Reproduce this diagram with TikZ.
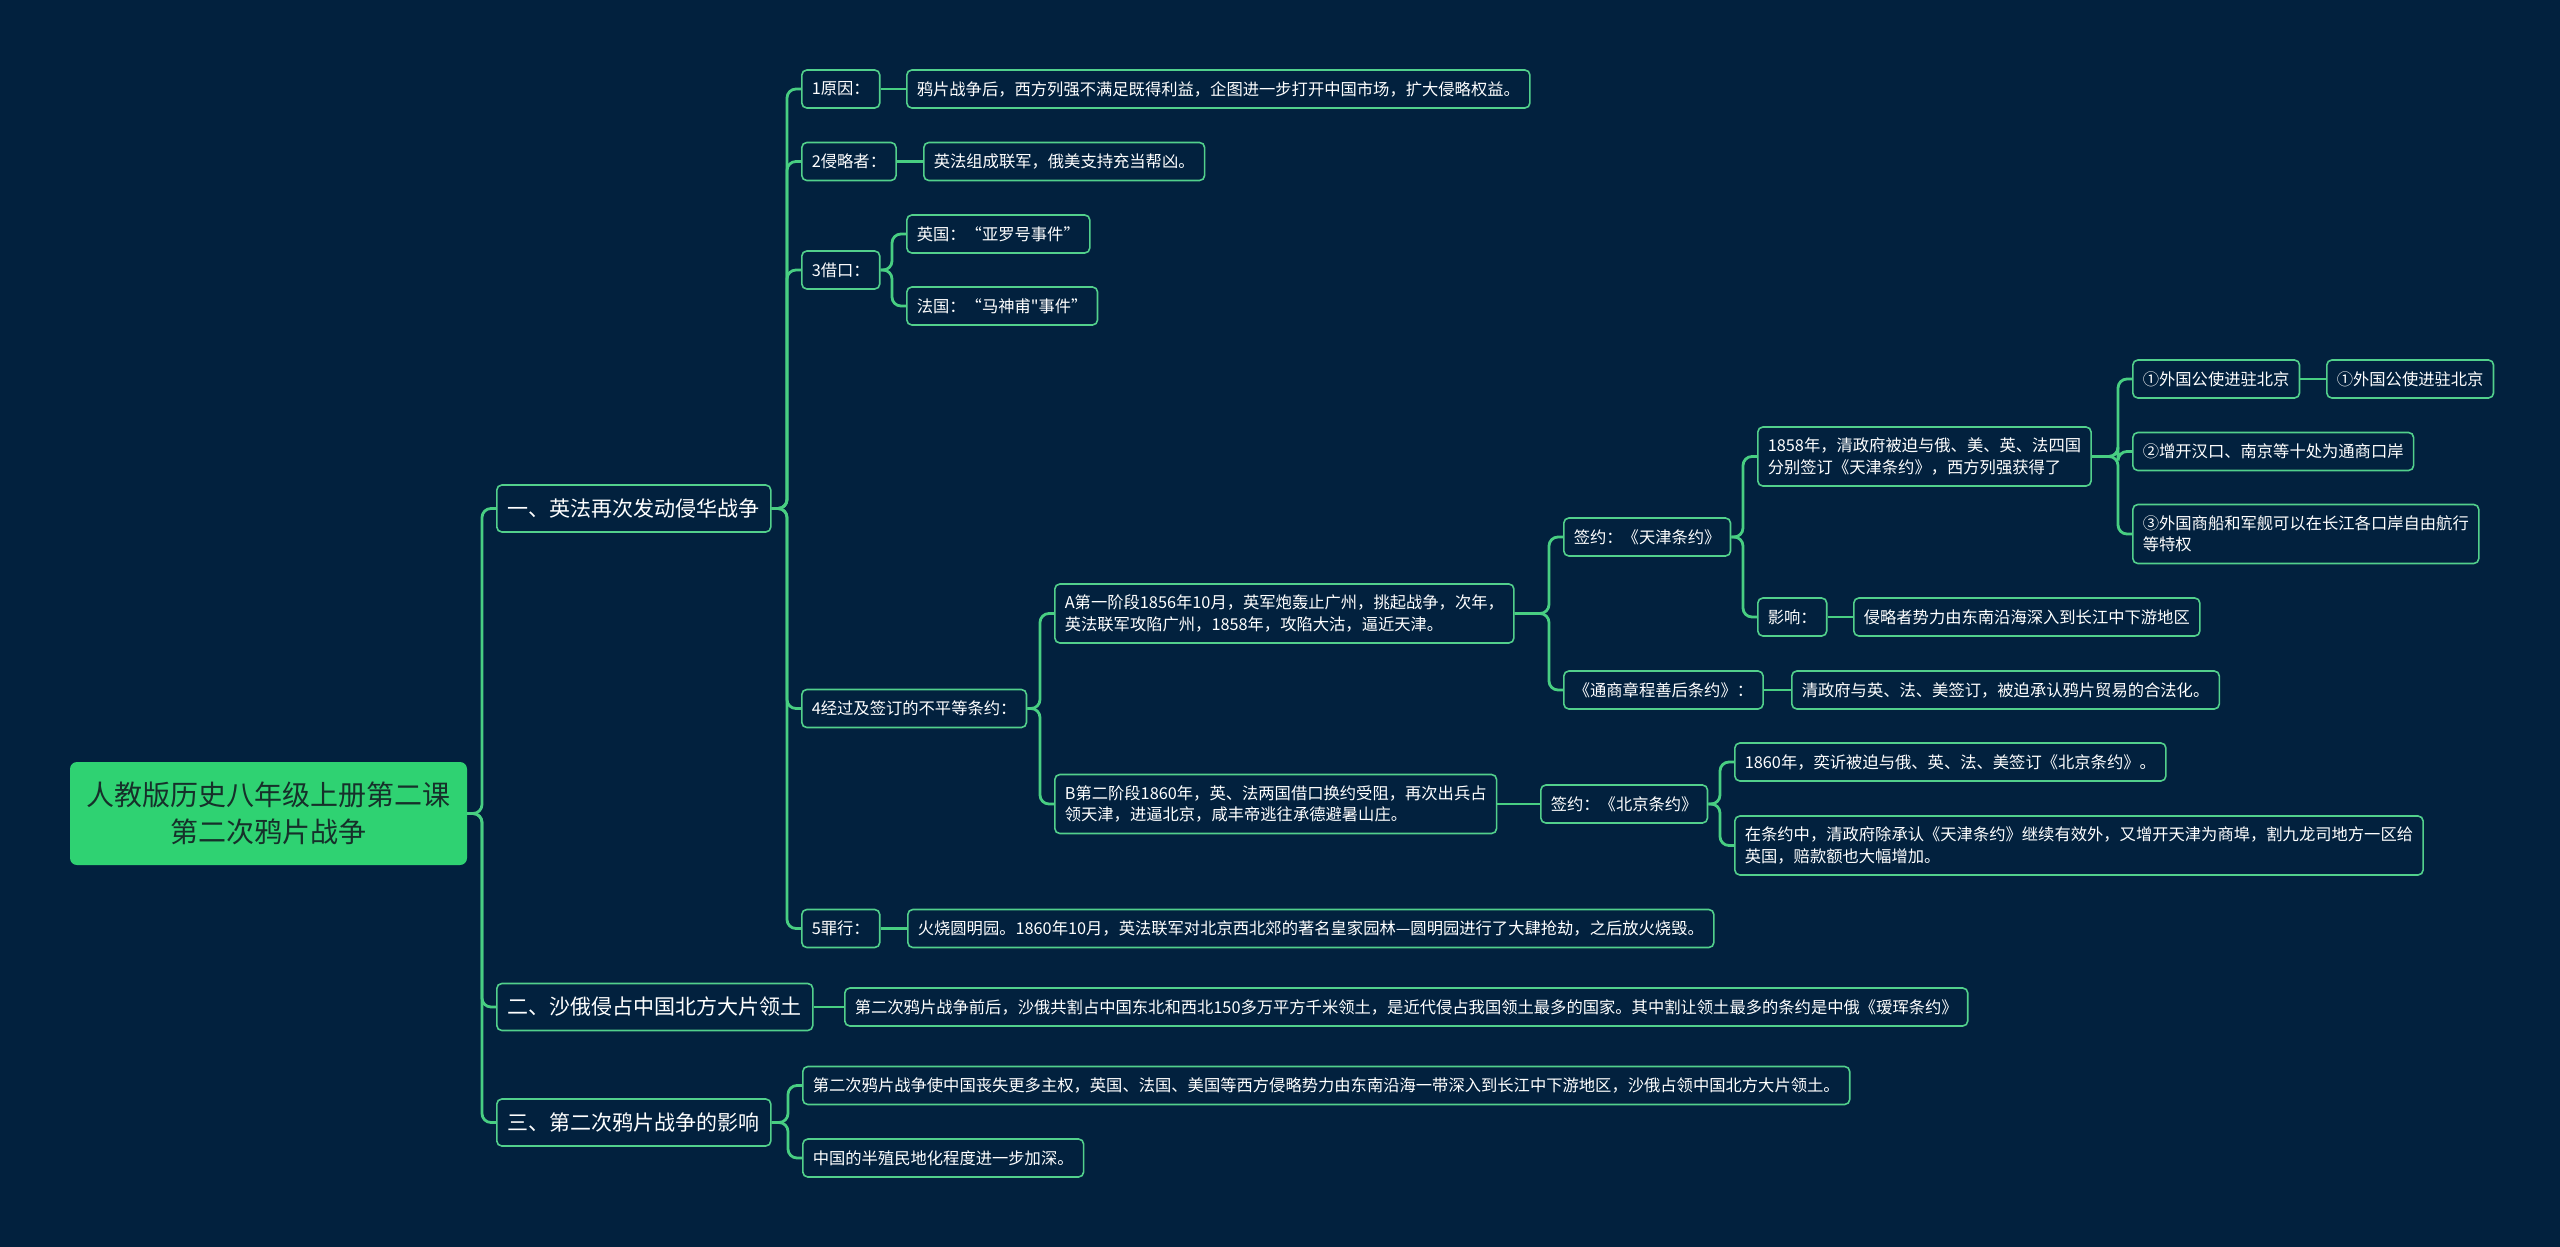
\documentclass[tikz,border=0pt]{standalone}
\usepackage{fontspec}
\setmainfont{Noto Sans CJK SC}[Ligatures=TeXOff]
\usetikzlibrary{calc}
\definecolor{bgc}{HTML}{02213E}
\definecolor{linec}{HTML}{48CE82}
\definecolor{boxc}{HTML}{52D08C}
\definecolor{rootc}{HTML}{2FD272}
\definecolor{roottext}{HTML}{16302A}
\tikzset{
  box/.style={draw=boxc, line width=1.6pt, rounded corners=5pt, fill=bgc, text=white,
    font=\fontsize{16.3pt}{21.5pt}\selectfont, inner xsep=10pt, inner ysep=0pt,
    minimum height=38pt, anchor=west, align=left},
  tall/.style={minimum height=59pt},
  lvone/.style={box, font=\fontsize{21pt}{26pt}\selectfont, minimum height=47pt, inner xsep=11pt},
  rootbox/.style={fill=rootc, draw=none, rounded corners=7pt, text=roottext,
    font=\fontsize{28pt}{37pt}\selectfont, minimum height=103pt, minimum width=397pt, align=center},
  edge/.style={draw=linec, line width=2.8pt, rounded corners=9pt},
  sedge/.style={draw=linec, line width=2.8pt},
}
\newcommand{\conn}[2]{\draw[edge] (#1.east) -| ([xshift=-14pt]#2.west) -- (#2.west);}
\newcommand{\sconn}[2]{\draw[sedge] (#1.east) -- (#2.west);}
\begin{document}
\begin{tikzpicture}[x=1pt,y=-1pt]
\fill[bgc] (0,0) rectangle (2560,1247);
\useasboundingbox (0,0) rectangle (2560,1247);

\node[rootbox] (root) at (268.5,813.5) {人教版历史八年级上册第二课\\第二次鸦片战争};

\node[lvone] (a) at (496,508.5) {一、英法再次发动侵华战争};
\node[lvone] (b) at (496,1007) {二、沙俄侵占中国北方大片领土};
\node[lvone] (c) at (496,1122.5) {三、第二次鸦片战争的影响};

\node[box] (a1) at (801,89) {1原因：};
\node[box] (a1x) at (906,89) {鸦片战争后，西方列强不满足既得利益，企图进一步打开中国市场，扩大侵略权益。};
\node[box] (a2) at (801,161.5) {2侵略者：};
\node[box] (a2x) at (923,161.5) {英法组成联军，俄美支持充当帮凶。};
\node[box] (a3) at (801,270) {3借口：};
\node[box] (a3a) at (906,234) {英国：“亚罗号事件”};
\node[box] (a3b) at (906,306) {法国：“马神甫"事件”};
\node[box] (a4) at (801,708.5) {4经过及签订的不平等条约：};
\node[box,tall] (sA) at (1054,613.5) {A第一阶段1856年10月，英军炮轰止广州，挑起战争，次年，\\英法联军攻陷广州，1858年，攻陷大沽，逼近天津。};
\node[box,tall] (sB) at (1054,804) {B第二阶段1860年，英、法两国借口换约受阻，再次出兵占\\领天津，进逼北京，咸丰帝逃往承德避暑山庄。};
\node[box] (tj) at (1563,537) {签约：《天津条约》};
\node[box,tall] (tj1) at (1757,456.5) {1858年，清政府被迫与俄、美、英、法四国\\分别签订《天津条约》，西方列强获得了};
\node[box] (p1) at (2132,379) {①外国公使进驻北京};
\node[box] (p1x) at (2326,379) {①外国公使进驻北京};
\node[box] (p2) at (2132,451.5) {②增开汉口、南京等十处为通商口岸};
\node[box,tall] (p3) at (2132,534) {③外国商船和军舰可以在长江各口岸自由航行\\等特权};
\node[box] (yx) at (1757,617) {影响：};
\node[box] (yxx) at (1853,617) {侵略者势力由东南沿海深入到长江中下游地区};
\node[box] (ts) at (1563,690) {《通商章程善后条约》：};
\node[box] (tsx) at (1791,690) {清政府与英、法、美签订，被迫承认鸦片贸易的合法化。};
\node[box] (bj) at (1540,804) {签约：《北京条约》};
\node[box] (bj1) at (1734,762) {1860年，奕䜣被迫与俄、英、法、美签订《北京条约》。};
\node[box,tall] (bj2) at (1734,845.5) {在条约中，清政府除承认《天津条约》继续有效外，又增开天津为商埠，割九龙司地方一区给\\英国，赔款额也大幅增加。};
\node[box] (a5) at (801,928.5) {5罪行：};
\node[box] (a5x) at (907,928.5) {火烧圆明园。1860年10月，英法联军对北京西北郊的著名皇家园林—圆明园进行了大肆抢劫，之后放火烧毁。};
\node[box] (bx) at (844,1007) {第二次鸦片战争前后，沙俄共割占中国东北和西北150多万平方千米领土，是近代侵占我国领土最多的国家。其中割让领土最多的条约是中俄《瑷珲条约》};
\node[box] (c1) at (802,1085.5) {第二次鸦片战争使中国丧失更多主权，英国、法国、美国等西方侵略势力由东南沿海一带深入到长江中下游地区，沙俄占领中国北方大片领土。};
\node[box] (c2) at (802,1158) {中国的半殖民地化程度进一步加深。};

\conn{root}{a}
\conn{root}{b}
\conn{root}{c}
\conn{a}{a1}
\conn{a}{a2}
\conn{a}{a3}
\conn{a}{a4}
\conn{a}{a5}
\sconn{a1}{a1x}
\sconn{a2}{a2x}
\conn{a3}{a3a}
\conn{a3}{a3b}
\conn{a4}{sA}
\conn{a4}{sB}
\conn{sA}{tj}
\conn{sA}{ts}
\conn{tj}{tj1}
\conn{tj}{yx}
\conn{tj1}{p1}
\conn{tj1}{p2}
\conn{tj1}{p3}
\sconn{p1}{p1x}
\sconn{yx}{yxx}
\sconn{ts}{tsx}
\sconn{sB}{bj}
\conn{bj}{bj1}
\conn{bj}{bj2}
\sconn{a5}{a5x}
\sconn{b}{bx}
\conn{c}{c1}
\conn{c}{c2}
\end{tikzpicture}
\end{document}
